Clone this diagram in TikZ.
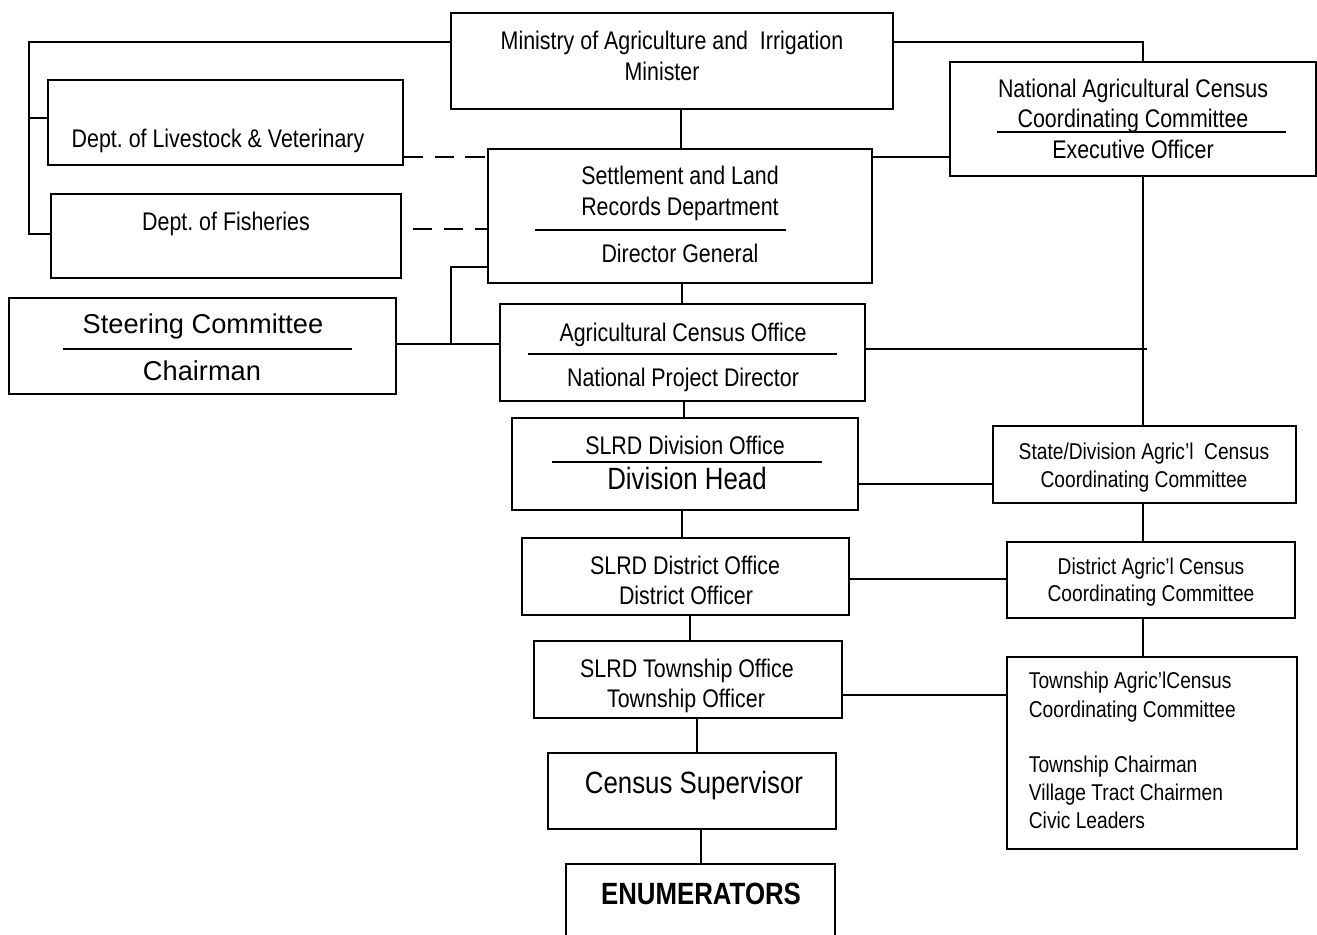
\documentclass[tikz,border=0pt]{standalone}
\usepackage{fontspec}
\setmainfont[FakeStretch=0.84]{Liberation Sans}
\newfontfamily\widesans{Liberation Sans}
\usetikzlibrary{fit}

\tikzset{
	box/.style={draw, line width=1pt, inner sep=0pt},
	txt/.style={anchor=base, inner sep=0pt, font=\fontsize{14.5}{17}\selectfont},
	small/.style={txt, font=\fontsize{13}{15}\selectfont},
	big/.style={txt, font=\fontsize{17.5}{20}\selectfont},
	wide/.style={txt, font=\widesans\fontsize{15.5}{18}\selectfont},
	dashline/.style={dash pattern=on 11pt off 6.5pt}
}

\begin{document}
\begin{tikzpicture}[x=0.02cm, y=-0.02cm, line width=1pt]
	\useasboundingbox (0,0) rectangle (1317,934);

	% boxes
	\node[box, fit={(451,13) (893,109)}] (minis) {};
	\node[box, fit={(48,80) (403,165)}] (live) {};
	\node[box, fit={(51,194) (401,278)}] (fish) {};
	\node[box, fit={(488,149) (872,283)}] (slrd) {};
	\node[box, fit={(950,62) (1316,176)}] (nacc) {};
	\node[box, fit={(9,298) (396,394)}] (steer) {};
	\node[box, fit={(500,304) (865,401)}] (aco) {};
	\node[box, fit={(512,418) (858,510)}] (div) {};
	\node[box, fit={(522,538) (849,615)}] (dist) {};
	\node[box, fit={(534,641) (842,718)}] (town) {};
	\node[box, fit={(548,753) (836,829)}] (sup) {};
	\node[box, fit={(566,864) (835,960)}] (enum) {};
	\node[box, fit={(993,426) (1296,503)}] (state) {};
	\node[box, fit={(1007,542) (1295,618)}] (dagr) {};
	\node[box, fit={(1007,657) (1297,849)}] (tagr) {};

	% texts
	\node[txt] (minisA) at (672,49) {Ministry of Agriculture and~ Irrigation};
	\node[txt] (minisB) at (662,80) {Minister};
	\node[txt] (liveA) at (218,147) {Dept.\ of Livestock \& Veterinary};
	\node[txt] (fishA) at (226,230) {Dept.\ of Fisheries};
	\node[txt] (slrdA) at (680,184) {Settlement and Land};
	\node[txt] (slrdB) at (680,215) {Records Department};
	\node[txt] (slrdC) at (680,262) {Director General};
	\node[txt] (naccA) at (1133,97) {National Agricultural Census};
	\node[txt] (naccB) at (1133,127) {Coordinating Committee};
	\node[txt] (naccC) at (1133,158) {Executive Officer};
	\node[wide] (steerA) at (203,333) {Steering Committee};
	\node[wide] (steerB) at (202,380) {Chairman};
	\node[txt] (acoA) at (683,341) {Agricultural Census Office};
	\node[txt] (acoB) at (683,386) {National Project Director};
	\node[txt] (divA) at (685,454) {SLRD Division Office};
	\node[big] (divB) at (687,489) {Division Head};
	\node[txt] (distA) at (685,574) {SLRD District Office};
	\node[txt] (distB) at (686,604) {District Officer};
	\node[txt] (townA) at (687,677) {SLRD Township Office};
	\node[txt] (townB) at (686,707) {Township Officer};
	\node[big] (supA) at (694,793) {Census Supervisor};
	\node[big, font=\bfseries\fontsize{17.5}{20}\selectfont] (enumA) at (701,904) {ENUMERATORS};
	\node[small] (stateA) at (1144,459) {State/Division Agric'l~ Census};
	\node[small] (stateB) at (1144,487) {Coordinating Committee};
	\node[small] (dagrA) at (1151,574) {District Agric'l Census};
	\node[small] (dagrB) at (1151,601) {Coordinating Committee};
	\node[small, anchor=base west] (tagrA) at (1028,688) {Township Agric'lCensus};
	\node[small, anchor=base west] (tagrB) at (1028,717) {Coordinating Committee};
	\node[small, anchor=base west] (tagrC) at (1028,772) {Township Chairman};
	\node[small, anchor=base west] (tagrD) at (1028,800) {Village Tract Chairmen};
	\node[small, anchor=base west] (tagrE) at (1028,828) {Civic Leaders};

	% rules inside boxes
	\draw (535,230) -- (786,230);
	\draw (997,132) -- (1286,132);
	\draw (63,349) -- (352,349);
	\draw (528,354) -- (837,354);
	\draw (552,462) -- (822,462);

	% left bracket
	\coordinate (lt) at (29,42);
	\coordinate (lm) at (29,118);
	\coordinate (lb) at (29,234);
	\draw (minis.west |- lt) -- (lt) -- (lb) -- (fish.west |- lb);
	\draw (lm) -- (live.west |- lm);

	% dashed links
	\coordinate (dl) at (401,157);
	\coordinate (df) at (413,229);
	\draw[dashline] (live.east |- dl) -- (slrd.west |- dl);
	\draw[dashline] (df) -- (slrd.west |- df);

	% steering committee
	\coordinate (sj) at (451,344);
	\coordinate (sk) at (451,267);
	\draw (steer.east |- sj) -- (aco.west |- sj);
	\draw (sj) -- (sk) -- (slrd.west |- sk);

	% right spine
	\coordinate (rt) at (1143,42);
	\coordinate (sn) at (872,157);
	\coordinate (ar) at (1147,349);
	\draw (minis.east |- rt) -- (rt) -- (rt |- nacc.north);
	\draw (slrd.east |- sn) -- (nacc.west |- sn);
	\draw (rt |- nacc.south) -- (rt |- state.north);
	\draw (aco.east |- ar) -- (ar);
	\draw (state.south -| rt) -- (dagr.north -| rt);
	\draw (dagr.south -| rt) -- (tagr.north -| rt);

	% middle column
	\coordinate (m1) at (681,0);
	\coordinate (m2) at (682,0);
	\coordinate (m3) at (684,0);
	\coordinate (m5) at (690,0);
	\coordinate (m6) at (697,0);
	\coordinate (m7) at (701,0);
	\draw (minis.south -| m1) -- (slrd.north -| m1);
	\draw (slrd.south -| m2) -- (aco.north -| m2);
	\draw (aco.south -| m3) -- (div.north -| m3);
	\draw (div.south -| m2) -- (dist.north -| m2);
	\draw (dist.south -| m5) -- (town.north -| m5);
	\draw (town.south -| m6) -- (sup.north -| m6);
	\draw (sup.south -| m7) -- (enum.north -| m7);

	% cross links
	\coordinate (h1) at (0,484);
	\coordinate (h2) at (0,579);
	\coordinate (h3) at (0,695);
	\draw (div.east |- h1) -- (state.west |- h1);
	\draw (dist.east |- h2) -- (dagr.west |- h2);
	\draw (town.east |- h3) -- (tagr.west |- h3);
\end{tikzpicture}
\end{document}
